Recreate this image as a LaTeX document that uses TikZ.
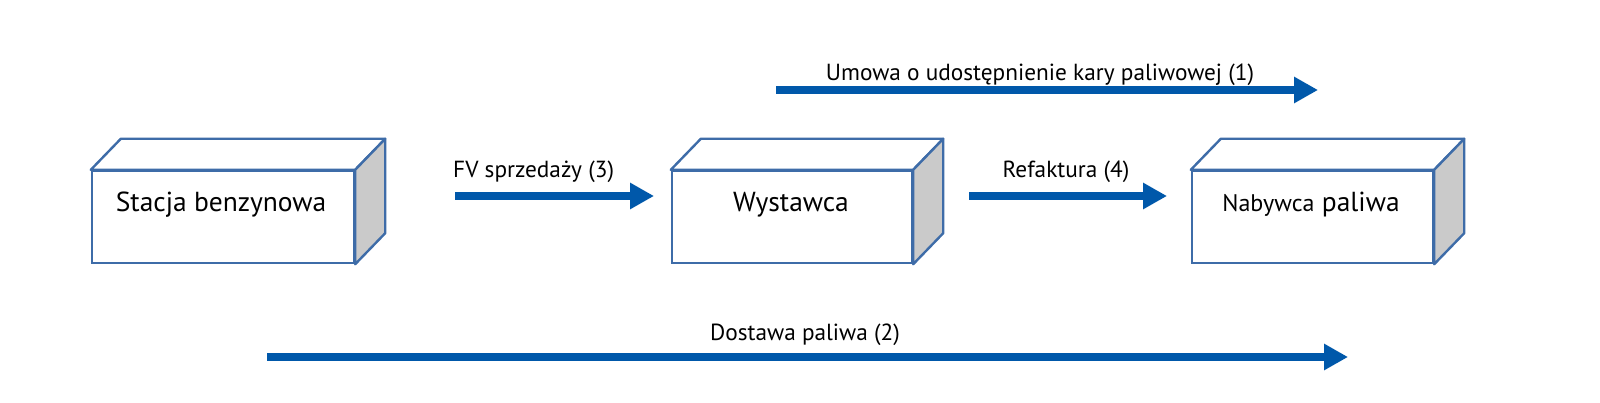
\documentclass[tikz,border=0pt]{standalone}
\usepackage{fontspec}
\setmainfont{PT Sans}
\usetikzlibrary{arrows.meta}
\definecolor{arrblue}{RGB}{0,88,170}
\definecolor{boxblue}{RGB}{62,108,168}
\definecolor{sidegray}{RGB}{202,202,202}
\tikzset{
  front/.style={draw=boxblue, line width=2.4pt, fill=white, minimum width=#1, minimum height=92pt, inner sep=0pt},
  face/.style={draw=boxblue, line width=2.4pt, line join=round},
  boxtext/.style={anchor=base, inner sep=0pt, font=\fontsize{27.5}{32}\selectfont},
  flow/.style={draw=arrblue, line width=8.5pt, -{Triangle[length=24pt,width=25pt]}},
  lbl/.style={anchor=base, inner sep=0pt, font=\fontsize{23.3}{27}\selectfont}
}
\begin{document}
\begin{tikzpicture}[x=1pt,y=-1pt]
\useasboundingbox (0,0) rectangle (1600,403);
% boxes (front faces)
\node[front=262pt] (s) at (223,217) {};
\node[front=240pt] (w) at (792,217) {};
\node[front=241pt] (n) at (1312.5,217) {};
\foreach \b in {s,w,n}{
  \draw[face, fill=white] (\b.north west) -- ++(30,-31) -- ([shift={(30,-31)}]\b.north east) -- (\b.north east) -- cycle;
  \draw[face, fill=sidegray] (\b.north east) -- ++(30,-31) -- ([shift={(30,-31)}]\b.south east) -- (\b.south east) -- cycle;
}
\node[boxtext] (st) at (221,212) {Stacja benzynowa};
\node[boxtext] (wt) at (791,212) {Wystawca};
\node[boxtext] (nt) at (1311,212) {{\fontsize{24}{28}\selectfont Nabywca} paliwa};
% arrows
\coordinate (a1s) at (776,90);  \coordinate (a1e) at (1318,90);
\coordinate (a2s) at (267,357); \coordinate (a2e) at (1348,357);
\coordinate (a3s) at (455,196); \coordinate (a3e) at (654,196);
\coordinate (a4s) at (969,196); \coordinate (a4e) at (1167,196);
\draw[flow] (a1s) -- (a1e);
\draw[flow] (a2s) -- (a2e);
\draw[flow] (a3s) -- (a3e);
\draw[flow] (a4s) -- (a4e);
\node[lbl] (l1) at (1040,81) {Umowa o udostępnienie kary paliwowej (1)};
\node[lbl] (l2) at (805,340) {Dostawa paliwa (2)};
\node[lbl, anchor=base west] (l3) at (453,178) {FV sprzedaży (3)};
\node[lbl] (l4) at (1066,178) {Refaktura (4)};
\end{tikzpicture}
\end{document}
